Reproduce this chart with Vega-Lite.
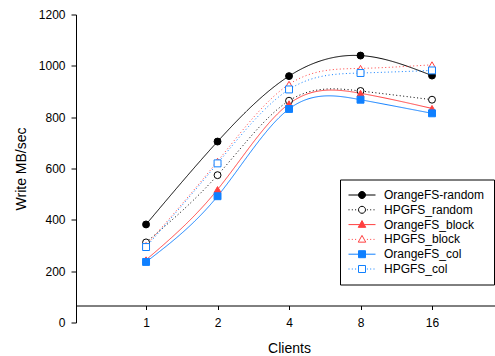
{
  "$schema": "https://vega.github.io/schema/vega-lite/v6.json",
  "autosize": {"type": "none"},
  "padding": {"left": 76, "top": 14.5, "right": 0, "bottom": 33.5},
  "width": 419,
  "height": 308,
  "config": {
    "font": "Liberation Sans",
    "view": {"stroke": null},
    "axis": {"grid": false, "domainColor": "black", "tickColor": "black", "labelColor": "black", "titleColor": "black", "labelFontSize": 12, "titleFontSize": 14, "titleFontWeight": "normal", "labelFont": "Liberation Sans", "titleFont": "Liberation Sans"}
  },
  "data": {"values": [
    {"series": "OrangeFS-random", "clients": 1, "value": 382},
    {"series": "OrangeFS-random", "clients": 2, "value": 705},
    {"series": "OrangeFS-random", "clients": 4, "value": 960},
    {"series": "OrangeFS-random", "clients": 8, "value": 1040},
    {"series": "OrangeFS-random", "clients": 16, "value": 962},
    {"series": "HPGFS_random", "clients": 1, "value": 312},
    {"series": "HPGFS_random", "clients": 2, "value": 574},
    {"series": "HPGFS_random", "clients": 4, "value": 864},
    {"series": "HPGFS_random", "clients": 8, "value": 902},
    {"series": "HPGFS_random", "clients": 16, "value": 868},
    {"series": "OrangeFS_block", "clients": 1, "value": 244},
    {"series": "OrangeFS_block", "clients": 2, "value": 518},
    {"series": "OrangeFS_block", "clients": 4, "value": 852},
    {"series": "OrangeFS_block", "clients": 8, "value": 893},
    {"series": "OrangeFS_block", "clients": 16, "value": 834},
    {"series": "HPGFS_block", "clients": 1, "value": 300},
    {"series": "HPGFS_block", "clients": 2, "value": 628},
    {"series": "HPGFS_block", "clients": 4, "value": 928},
    {"series": "HPGFS_block", "clients": 8, "value": 990},
    {"series": "HPGFS_block", "clients": 16, "value": 1004},
    {"series": "OrangeFS_col", "clients": 1, "value": 236},
    {"series": "OrangeFS_col", "clients": 2, "value": 492},
    {"series": "OrangeFS_col", "clients": 4, "value": 832},
    {"series": "OrangeFS_col", "clients": 8, "value": 868},
    {"series": "OrangeFS_col", "clients": 16, "value": 815},
    {"series": "HPGFS_col", "clients": 1, "value": 294},
    {"series": "HPGFS_col", "clients": 2, "value": 620},
    {"series": "HPGFS_col", "clients": 4, "value": 908},
    {"series": "HPGFS_col", "clients": 8, "value": 972},
    {"series": "HPGFS_col", "clients": 16, "value": 982}
  ]},
  "encoding": {
    "x": {"field": "clients", "type": "quantitative",
      "scale": {"type": "log", "base": 2, "domain": [0.507, 29.47], "nice": false},
      "axis": {"values": [1, 2, 4, 8, 16], "format": "d", "offset": -17, "tickSize": 4, "labelPadding": 8, "title": "Clients", "titleX": 213, "titleY": 36, "titleBaseline": "top"}},
    "y": {"field": "value", "type": "quantitative",
      "scale": {"domain": [0, 1200], "nice": false, "zero": true},
      "axis": {"values": [0, 200, 400, 600, 800, 1000, 1200], "format": "d", "tickSize": 5, "labelPadding": 6, "title": "Write MB/sec", "titleX": -48}}
  },
  "layer": [
    {
      "data": {"values": [{}]},
      "mark": {"type": "rule", "color": "black", "strokeWidth": 1},
      "encoding": {"y": {"datum": 1200}, "x": null}
    },
    {
      "mark": {"type": "line", "interpolate": "natural", "strokeWidth": 1},
      "encoding": {
        "stroke": {"field": "series", "type": "nominal",
          "scale": {"domain": ["OrangeFS-random", "HPGFS_random", "OrangeFS_block", "HPGFS_block", "OrangeFS_col", "HPGFS_col"],
                    "range": ["black", "black", "#ff4040", "#ff4040", "#1080ff", "#1080ff"]},
          "legend": {
            "title": null, "orient": "none", "legendX": 264, "legendY": 165,
            "strokeColor": "black", "fillColor": "white", "padding": 9.5, "symbolOffset": 6.5,
            "symbolSize": 100, "symbolStrokeWidth": 1, "symbolType": "circle", "labelOffset": 16, "rowPadding": 2.8,
            "labelFontSize": 12, "labelFont": "Liberation Sans", "labelColor": "black", "labelLimit": 300,
            "encode": {"symbols": {"update": {
              "shape": {"signal": "datum.value === 'OrangeFS-random' ? 'M-2.7,0H-0.7M0.7,0H2.7M-0.7,0A0.7,0.7 0 1,1 0.7,0A0.7,0.7 0 1,1 -0.7,0Z' : datum.value === 'HPGFS_random' ? 'M-2.7,0h0.2M-2.04,0h0.2M-1.38,0h0.2M0.98,0h0.2M1.64,0h0.2M2.3,0h0.2M-0.7,0A0.7,0.7 0 1,1 0.7,0A0.7,0.7 0 1,1 -0.7,0Z' : datum.value === 'OrangeFS_block' ? 'M-2.7,0H-0.45M0.45,0H2.7M0,-0.8L0.75,0.55L-0.75,0.55Z' : datum.value === 'HPGFS_block' ? 'M-2.7,0h0.2M-2.04,0h0.2M-1.38,0h0.2M0.98,0h0.2M1.64,0h0.2M2.3,0h0.2M0,-0.8L0.75,0.55L-0.75,0.55Z' : datum.value === 'OrangeFS_col' ? 'M-2.7,0H-0.7M0.7,0H2.7M-0.7,-0.7H0.7V0.7H-0.7Z' : 'M-2.7,0h0.2M-2.04,0h0.2M-1.38,0h0.2M0.98,0h0.2M1.64,0h0.2M2.3,0h0.2M-0.7,-0.7H0.7V0.7H-0.7Z'"},
              "fill": {"signal": "datum.value === 'OrangeFS-random' ? 'black' : datum.value === 'OrangeFS_block' ? '#ff4040' : datum.value === 'OrangeFS_col' ? '#1080ff' : 'white'"},
              "fillOpacity": {"value": 1},
              "opacity": {"value": 1}
            }}}
          }},
        "strokeDash": {"condition": [
          {"test": "datum.series === 'HPGFS_random' || datum.series === 'HPGFS_block' || datum.series === 'HPGFS_col'", "value": [1, 2.5]}
        ], "value": [1, 0]}
      }
    },
    {
      "mark": {"type": "point", "size": 48, "strokeWidth": 1, "opacity": 1, "fillOpacity": 1},
      "encoding": {
        "stroke": {"field": "series", "type": "nominal"},
        "fill": {"condition": [
          {"test": "datum.series === 'OrangeFS-random'", "value": "black"},
          {"test": "datum.series === 'OrangeFS_block'", "value": "#ff4040"},
          {"test": "datum.series === 'OrangeFS_col'", "value": "#1080ff"}
        ], "value": "white"},
        "shape": {"condition": [
          {"test": "datum.series === 'OrangeFS-random' || datum.series === 'HPGFS_random'", "value": "circle"},
          {"test": "datum.series === 'OrangeFS_block' || datum.series === 'HPGFS_block'", "value": "triangle-up"}
        ], "value": "square"}
      }
    }
  ]
}
